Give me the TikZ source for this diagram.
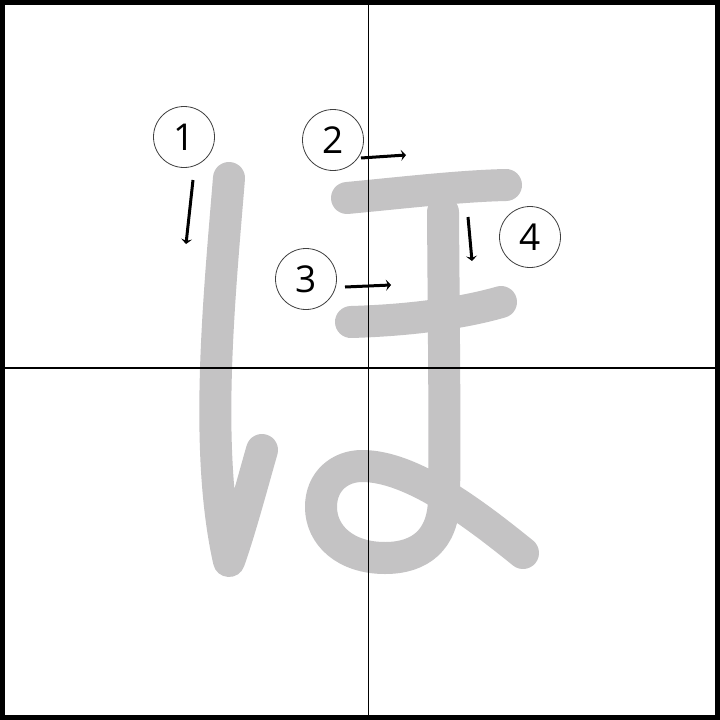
\documentclass[tikz,border=0pt]{standalone}
\usepackage{fontspec}
\setmainfont{Open Sans}
\usetikzlibrary{arrows.meta}
\definecolor{strokegray}{RGB}{196,195,196}
\tikzset{
  kana/.style={draw=strokegray, line width=32pt, line cap=round, line join=round},
  numcircle/.style={circle, draw=black!75, line width=0.8pt, minimum size=61pt, inner sep=0pt, fill=white, font=\fontsize{37}{37}\selectfont},
  order/.style={line width=3pt, -{Stealth[length=5pt,width=11pt,inset=2pt]}},
  gridline/.style={line width=1.2pt}
}
\begin{document}
\begin{tikzpicture}[x=1pt,y=-1pt]
\useasboundingbox (0,0) rectangle (720,720);
\fill[white] (0,0) rectangle (720,720);
% strokes
\draw[kana] (229,178) .. controls (219,300) and (204,450) .. (229,561) .. controls (240,530) and (252,485) .. (262,450);
\draw[kana] (347,198) .. controls (400,193) and (460,186) .. (506,185);
\draw[kana] (351,322) .. controls (420,320) and (470,311) .. (501,302);
\draw[kana] (443,212) .. controls (444,350) and (445,440) .. (444,500) .. controls (443,540) and (420,558) .. (385,558) .. controls (345,558) and (321,535) .. (321,507) .. controls (321,481) and (340,466) .. (362,466) .. controls (410,466) and (470,510) .. (523,553);
% grid
\draw[gridline] (368.5,0) -- (368.5,720);
\draw[gridline] (0,368) -- (720,368);
% border
\draw[line width=5pt] (2.5,2.5) rectangle (717.5,717.5);
% number circles
\node[numcircle] (n1) at (184,137) {1};
\node[numcircle] (n2) at (333,140) {2};
\node[numcircle] (n3) at (306,279) {3};
\node[numcircle] (n4) at (530,237) {4};
% arrows
\coordinate (a1s) at (193,180); \coordinate (a1e) at (186,244);
\coordinate (a2s) at (361,158); \coordinate (a2e) at (406,155);
\coordinate (a3s) at (345,287); \coordinate (a3e) at (391,285);
\coordinate (a4s) at (468,217); \coordinate (a4e) at (472,261);
\draw[order] (a1s) -- (a1e);
\draw[order] (a2s) -- (a2e);
\draw[order] (a3s) -- (a3e);
\draw[order] (a4s) -- (a4e);
\end{tikzpicture}
\end{document}
